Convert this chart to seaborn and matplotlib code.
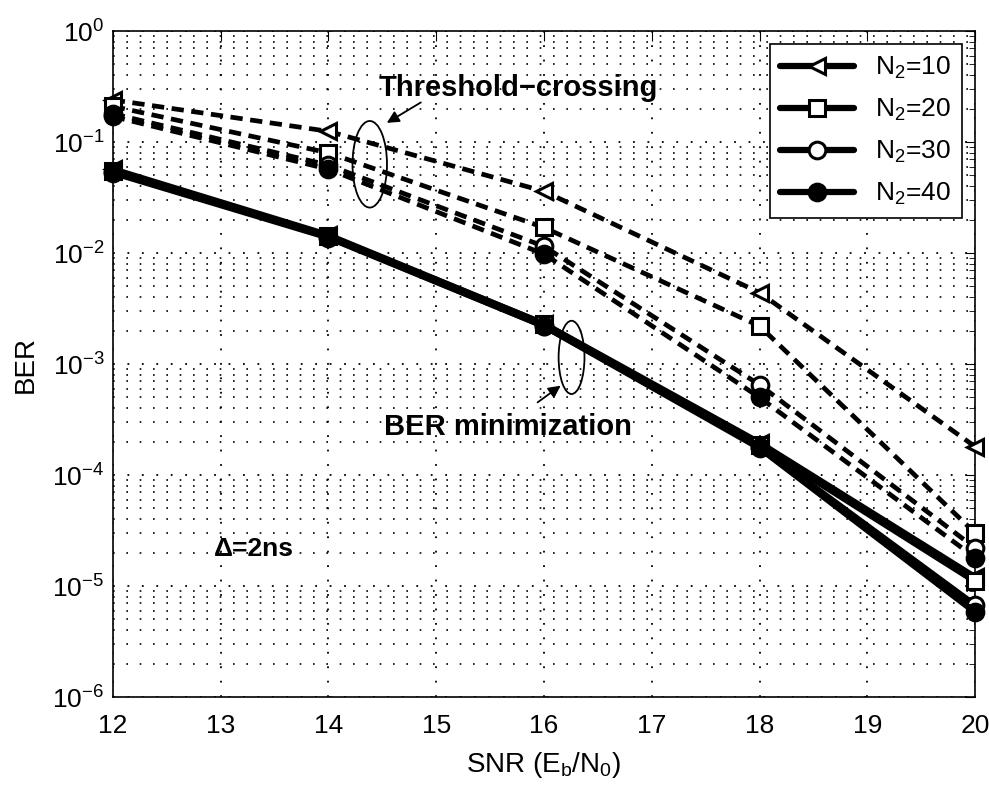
import matplotlib
matplotlib.use("Agg")
import matplotlib.pyplot as plt
from matplotlib.patches import Ellipse
from matplotlib.lines import Line2D
from matplotlib.ticker import LogLocator, NullFormatter, MultipleLocator
import seaborn as sns
import pandas as pd
import numpy as np

# Dados
snr = [12, 14, 16, 18, 20]
rotulos = ["N$_2$=10", "N$_2$=20", "N$_2$=30", "N$_2$=40"]
marcadores = ["<", "s", "o", "o"]
preenchido = [False, False, False, True]

# Threshold-crossing (tracejado)
ber_limiar_10 = [0.24, 0.125, 0.036, 0.0044, 1.8e-4]
ber_limiar_20 = [0.21, 0.080, 0.017, 0.0022, 3.0e-5]
ber_limiar_30 = [0.18, 0.062, 0.0115, 6.5e-4, 2.2e-5]
ber_limiar_40 = [0.17, 0.057, 0.0098, 5.0e-4, 1.8e-5]

# BER minimization (continuo)
ber_min_10 = [0.057, 0.0145, 0.0023, 1.95e-4, 1.2e-5]
ber_min_20 = [0.055, 0.0142, 0.0023, 1.85e-4, 1.1e-5]
ber_min_30 = [0.054, 0.0140, 0.0022, 1.8e-4, 6.7e-6]
ber_min_40 = [0.053, 0.0138, 0.0022, 1.75e-4, 5.8e-6]

limiar = [ber_limiar_10, ber_limiar_20, ber_limiar_30, ber_limiar_40]
minimo = [ber_min_10, ber_min_20, ber_min_30, ber_min_40]

sns.set_style("white")
plt.rcParams["font.family"] = ["Liberation Sans", "DejaVu Sans"]
plt.rcParams["mathtext.fontset"] = "custom"
plt.rcParams["mathtext.rm"] = "Liberation Sans"
plt.rcParams["mathtext.it"] = "Liberation Sans"
plt.rcParams["mathtext.bf"] = "Liberation Sans:bold"
for k in ["text.color", "axes.labelcolor", "xtick.color", "ytick.color"]:
    plt.rcParams[k] = "black"

fig = plt.figure(figsize=(9.89, 7.89), dpi=100)
ax = fig.add_axes([0.114, 0.1166, 0.872, 0.844])

for i in range(4):
    mfc = "black" if preenchido[i] else "white"
    df = pd.DataFrame({"snr": snr, "ber": limiar[i]})
    sns.lineplot(data=df, x="snr", y="ber", ax=ax, color="black", lw=3.4,
                 linestyle=(0, (2.6, 1.6)), marker=marcadores[i], markersize=12,
                 markerfacecolor=mfc, markeredgecolor="black", markeredgewidth=2.2,
                 clip_on=False, zorder=3)
for i in range(4):
    mfc = "black" if preenchido[i] else "white"
    df = pd.DataFrame({"snr": snr, "ber": minimo[i]})
    sns.lineplot(data=df, x="snr", y="ber", ax=ax, color="black", lw=4.5,
                 marker=marcadores[i], markersize=12,
                 markerfacecolor=mfc, markeredgecolor="black", markeredgewidth=2.2,
                 clip_on=False, zorder=4)

ax.set_yscale("log")
ax.set_xlim(12, 20)
ax.set_ylim(1e-6, 1)
ax.xaxis.set_major_locator(MultipleLocator(1))
ax.yaxis.set_major_locator(LogLocator(base=10, numticks=10))
ax.yaxis.set_minor_locator(LogLocator(base=10, subs=np.arange(2, 10), numticks=20))
ax.yaxis.set_minor_formatter(NullFormatter())
ax.grid(True, which="major", linestyle=(0, (1, 7)), color="black", lw=1.3)
ax.grid(True, which="minor", axis="y", linestyle=(0, (1, 7)), color="black", lw=1.2)
ax.tick_params(which="both", direction="in", top=True, right=True, labelsize=19)
ax.tick_params(which="major", length=7)
ax.tick_params(which="minor", length=4)
ax.tick_params(axis="x", pad=12)
ax.tick_params(axis="y", pad=6)
for s in ax.spines.values():
    s.set_color("black")
    s.set_linewidth(1.2)

ax.set_xlabel("SNR (E$_\\mathregular{b}$/N$_\\mathregular{0}$)", fontsize=20, labelpad=9)
ax.set_ylabel("BER", fontsize=20, labelpad=10)

# Anotacoes
ax.add_patch(Ellipse((0.298, 0.80), 0.04, 0.13, transform=ax.transAxes,
                     fill=False, edgecolor="black", lw=1.3, zorder=5))
ax.add_patch(Ellipse((0.532, 0.51), 0.03, 0.11, transform=ax.transAxes,
                     fill=False, edgecolor="black", lw=1.3, zorder=5))
ax.annotate("", xy=(0.315, 0.86), xycoords="axes fraction",
            xytext=(0.36, 0.895), textcoords="axes fraction",
            arrowprops=dict(arrowstyle="-|>", color="black", lw=1.3, mutation_scale=18))
ax.text(0.308, 0.915, "Threshold\u2212crossing", transform=ax.transAxes,
        fontsize=21, fontweight="bold", va="center", ha="left")
ax.annotate("", xy=(0.522, 0.47), xycoords="axes fraction",
            xytext=(0.49, 0.44), textcoords="axes fraction",
            arrowprops=dict(arrowstyle="-|>", color="black", lw=1.3, mutation_scale=18))
ax.text(0.315, 0.405, "BER minimization", transform=ax.transAxes,
        fontsize=21, fontweight="bold", va="center", ha="left")
ax.text(0.117, 0.223, "\u0394=2ns", transform=ax.transAxes,
        fontsize=19, fontweight="bold", va="center", ha="left")

handles = [Line2D([], [], color="black", lw=4.5, marker=marcadores[i], markersize=12,
                  markerfacecolor="black" if preenchido[i] else "white",
                  markeredgecolor="black", markeredgewidth=2.2) for i in range(4)]
leg = ax.legend(handles, rotulos, loc="upper right", fontsize=19, fancybox=False,
                framealpha=1, edgecolor="black", handlelength=2.8,
                borderaxespad=0.5, labelspacing=0.6)
leg.get_frame().set_linewidth(1.2)
leg.set_zorder(10)

fig.savefig("out.png", dpi=100)
